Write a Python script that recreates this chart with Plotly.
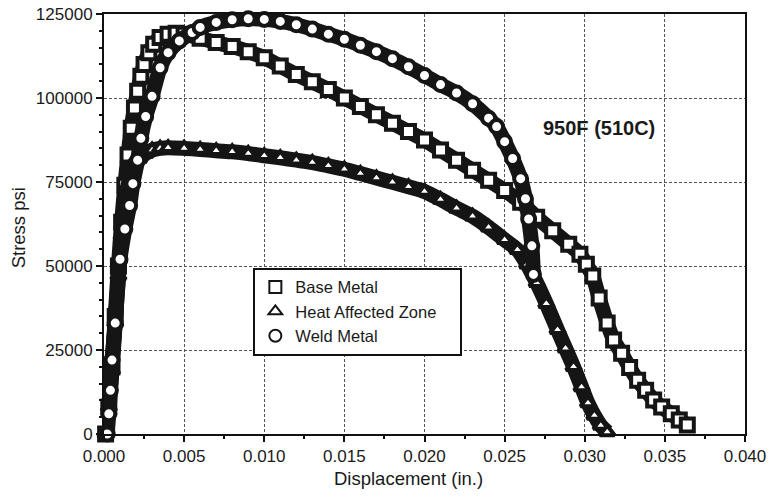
import plotly.graph_objects as go

# ---------------- data ----------------
base_x = [0.0001, 0.0003, 0.0005, 0.0007, 0.0009, 0.0011, 0.0013, 0.0015, 0.0017, 0.0019,
          0.0021, 0.0023, 0.0025, 0.0028, 0.0031, 0.0035, 0.0040, 0.0045, 0.0050, 0.0060,
          0.0070, 0.0080, 0.0090, 0.0100, 0.0110, 0.0120, 0.0130, 0.0140, 0.0150, 0.0160,
          0.0170, 0.0180, 0.0190, 0.0200, 0.0210, 0.0220, 0.0230, 0.0240, 0.0250, 0.0260,
          0.0270, 0.0280, 0.0290, 0.0297, 0.0301, 0.0305, 0.0309, 0.0314, 0.0318, 0.0323,
          0.0328, 0.0333, 0.0338, 0.0343, 0.0348, 0.0354, 0.0359, 0.0364]
base_y = [0, 8000, 20000, 35000, 50000, 63000, 74000, 83000, 91000, 97000,
          102000, 106500, 110000, 113500, 116000, 118000, 119000, 119300, 119000, 117800,
          116500, 115300, 113800, 112000, 109500, 107000, 104800, 102500, 100000, 97500,
          95000, 92500, 90000, 87500, 84500, 81500, 78500, 75500, 72500, 69000,
          64500, 60500, 56500, 53500, 50500, 47000, 40500, 33000, 28000, 24000,
          19800, 16000, 13000, 10100, 8000, 6000, 4200, 2700]

haz_x = [0.0001, 0.0003, 0.0005, 0.0007, 0.0009, 0.0011, 0.0013, 0.0015, 0.0017, 0.0019,
         0.0022, 0.0026, 0.0030, 0.0035, 0.0040, 0.0050, 0.0060, 0.0070, 0.0080, 0.0090,
         0.0100, 0.0110, 0.0120, 0.0130, 0.0140, 0.0150, 0.0160, 0.0170, 0.0180, 0.0190,
         0.0200, 0.0210, 0.0220, 0.0230, 0.0240, 0.0250, 0.0258, 0.0264, 0.0270, 0.0276,
         0.0283, 0.0288, 0.0293, 0.0298, 0.0302, 0.0306, 0.0310, 0.0314]
haz_y = [0, 8000, 19000, 33000, 47000, 59000, 68000, 74000, 78000, 80500,
         82000, 83500, 84500, 85000, 85200, 85000, 84700, 84300, 84000, 83500,
         82800, 82200, 81500, 80800, 79800, 78800, 77500, 76200, 74900, 73600,
         72200, 69800, 67200, 64800, 61500, 57800, 54800, 50500, 45000, 38800,
         31000, 25500, 20000, 14000, 9200, 5500, 2500, 600]

weld_x = [0.0002, 0.0003, 0.0004, 0.0005, 0.0007, 0.0010, 0.0013, 0.0016, 0.0018, 0.0021,
          0.0023, 0.0026, 0.0030, 0.0035, 0.0040, 0.0047, 0.0055, 0.0060, 0.0070, 0.0080,
          0.0090, 0.0100, 0.0110, 0.0120, 0.0130, 0.0140, 0.0150, 0.0160, 0.0170, 0.0180,
          0.0190, 0.0200, 0.0210, 0.0220, 0.0230, 0.0240, 0.0245, 0.0250, 0.0255, 0.0260,
          0.0263, 0.0265, 0.0267, 0.0268]
weld_y = [0, 6000, 13000, 22000, 33000, 52000, 61000, 68000, 74500, 81500,
          88000, 94500, 100500, 109000, 113500, 117000, 119500, 121000, 122500, 123300,
          123600, 123400, 122800, 121800, 120500, 119000, 117500, 115700, 113800, 111700,
          109300, 106700, 104000, 101500, 98300, 94000, 91500, 87000, 82000, 76000,
          70000, 64000, 56000, 47500]

series_names = ["Base Metal", "Heat Affected Zone", "Weld Metal"]
series_symbols = ["square", "triangle-up", "circle"]

x_ticks = [0.000, 0.005, 0.010, 0.015, 0.020, 0.025, 0.030, 0.035, 0.040]
x_tick_text = ["0.000", "0.005", "0.010", "0.015", "0.020", "0.025", "0.030", "0.035", "0.040"]
y_ticks = [0, 25000, 50000, 75000, 100000, 125000]
y_tick_text = ["0", "25000", "50000", "75000", "100000", "125000"]

label_text = "950F (510C)"
x_title = "Displacement (in.)"
y_title = "Stress psi"

# ---------------- figure ----------------
FONT = "Liberation Sans, Arial, sans-serif"
INK = "#151515"
TXT = "#1a1a1a"
PAD = "\u00a0" * 4  # widens the key box to match the reference
fig = go.Figure()

series = [(base_x, base_y), (haz_x, haz_y), (weld_x, weld_y)]
for (xs, ys), name, sym in zip(series, series_names, series_symbols):
    # dense black band formed by overlapping markers in the original
    fig.add_trace(go.Scatter(
        x=xs, y=ys, mode="lines", showlegend=False, hoverinfo="skip",
        line=dict(color=INK, width=15, shape="spline", smoothing=0.6),
        cliponaxis=False,
    ))
    fig.add_trace(go.Scatter(
        x=xs, y=ys, mode="markers", name=name, showlegend=False,
        marker=dict(symbol=sym, size=13, color="white",
                    line=dict(color=INK, width=4)),
        cliponaxis=False,
    ))
    # legend entry with thin open symbol, as in the reference key
    fig.add_trace(go.Scatter(
        x=[None], y=[None], mode="markers", name=name + PAD,
        marker=dict(symbol=sym, size=13, color="white",
                    line=dict(color=INK, width=1.5)),
    ))

fig.add_annotation(x=0.0309, y=91000, xref="x", yref="y", text="<b>%s</b>" % label_text,
                   showarrow=False, font=dict(family=FONT, size=20, color=TXT))
fig.add_annotation(x=0.475, y=-0.105, xref="paper", yref="paper", text=x_title,
                   xanchor="center", yanchor="middle",
                   showarrow=False, font=dict(family=FONT, size=18.5, color=TXT))
fig.add_annotation(x=-0.134, y=0.49, xref="paper", yref="paper", text=y_title,
                   xanchor="center", yanchor="middle",
                   textangle=-90, showarrow=False,
                   font=dict(family=FONT, size=18.5, color=TXT))

axis_common = dict(
    showline=True, linecolor="#111", linewidth=2, mirror=True,
    ticks="outside", ticklen=6, tickwidth=1.5, tickcolor="#111",
    showgrid=True, gridcolor="#555", gridwidth=1, griddash="3px,2px",
    zeroline=False, automargin=False, ticklabeloverflow="allow",
    tickfont=dict(family=FONT, size=17, color=TXT),
)
fig.update_xaxes(range=[0, 0.040], tickvals=x_ticks, ticktext=x_tick_text,
                 minor=dict(ticks="outside", ticklen=3, dtick=0.0025, tickcolor="#111",
                            showgrid=False),
                 **axis_common)
fig.update_yaxes(range=[0, 125000], tickvals=y_ticks, ticktext=y_tick_text,
                 minor=dict(ticks="outside", ticklen=3, dtick=5000, tickcolor="#111",
                            showgrid=False),
                 **axis_common)

fig.update_layout(
    width=772, height=501,
    margin=dict(l=104, r=27, t=14, b=67, autoexpand=False),
    paper_bgcolor="white", plot_bgcolor="white",
    showlegend=True,
    legend=dict(x=0.233, y=0.396, xanchor="left", yanchor="top",
                bgcolor="white", bordercolor="#111", borderwidth=2,
                font=dict(family=FONT, size=16.5, color=TXT),
                itemsizing="constant", tracegroupgap=0),
    font=dict(family=FONT, color=TXT),
)

# remove the page's default 8px body margin so the figure sits at the window's corner
fig.write_html("out.html",
               config={"displayModeBar": False},
               post_script="document.body.style.margin='0';document.body.style.overflow='hidden';")
